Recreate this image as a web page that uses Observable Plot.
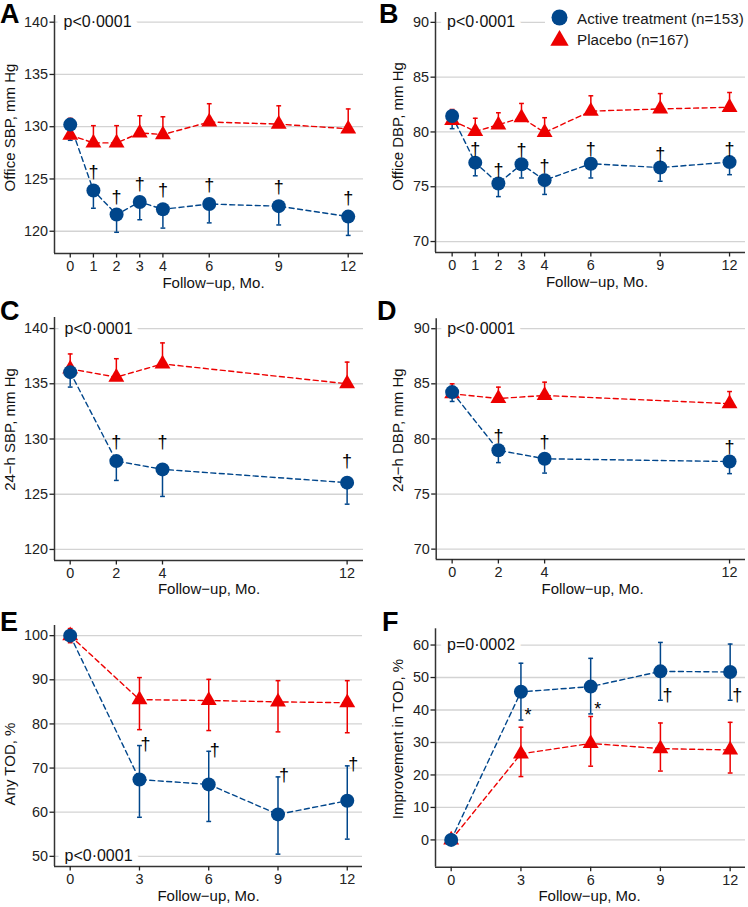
<!DOCTYPE html>
<html><head><meta charset="utf-8">
<script src="https://cdn.jsdelivr.net/npm/d3@7"></script>
<script src="https://cdn.jsdelivr.net/npm/@observablehq/plot@0.6"></script>
<style>
body{margin:0;background:#fff;}
#wrap{position:relative;width:748px;height:907px;background:#fff;font-family:"Liberation Sans",Arial,sans-serif;overflow:hidden}
.panel{position:absolute}
.letter{position:absolute;font-weight:bold;font-size:27px;line-height:27px;color:#000;font-family:"Liberation Sans",Arial,sans-serif}
#legend{position:absolute;left:545px;top:2px;width:203px;height:48px;background:#fff}
#legend svg{position:absolute;left:0;top:0;overflow:visible}
</style></head><body><div id="wrap"></div>
<script>
const BLUE = "#00468B", RED = "#ED0000";
const seriesNames = ["Active treatment (n=153)", "Placebo (n=167)"];
const panelLetters = ["A","B","C","D","E","F"];
const xTitle = "Follow\u2212up, Mo.";

// months
const months_AB = [0,1,2,3,4,6,9,12];
const months_CD = [0,2,4,12];
const months_EF = [0,3,6,9,12];

// A: Office SBP
const A_active     = [130.2,123.9,121.6,122.8,122.1,122.6,122.4,121.4];
const A_active_lo  = [128.7,122.2,119.9,121.1,120.3,120.8,120.6,119.6];
const A_placebo    = [129.2,128.45,128.45,129.4,129.25,130.45,130.25,129.8];
const A_placebo_hi = [130.8,130.1,130.1,131.05,130.95,132.2,132.0,131.7];
const A_sig = ["","†","†","†","†","†","†","†"];
// B: Office DBP
const B_active     = [81.45,77.2,75.3,77.05,75.6,77.1,76.75,77.25];
const B_active_lo  = [80.3,76.0,74.1,75.8,74.3,75.8,75.5,76.1];
const B_placebo    = [81.05,80.05,80.65,81.3,79.95,81.9,82.1,82.25];
const B_placebo_hi = [82.05,81.25,81.75,82.6,81.3,83.3,83.5,83.6];
const B_sig = ["","†","†","†","†","†","†","†"];
// C: 24-h SBP
const C_active     = [136.05,128.0,127.25,126.05];
const C_active_lo  = [134.7,126.25,124.8,124.1];
const C_placebo    = [136.35,135.6,136.8,135.0];
const C_placebo_hi = [137.7,137.27,138.7,136.96];
const C_sig = ["","†","†","†"];
// D: 24-h DBP
const D_active     = [84.25,78.97,78.2,77.95];
const D_active_lo  = [83.4,77.85,76.9,76.85];
const D_placebo    = [84.1,83.67,83.94,83.2];
const D_placebo_hi = [85.0,84.7,85.15,84.3];
const D_sig = ["","†","†","†"];
// E: Any TOD %
const E_active     = [100,67.4,66.3,59.5,62.6];
const E_active_lo  = [100,58.85,57.9,50.5,53.9];
const E_active_hi  = [100,75.1,73.8,68.0,70.5];
const E_placebo    = [100,85.5,85.3,85.0,84.8];
const E_placebo_lo = [98.4,78.7,78.5,78.2,78.0];
const E_placebo_hi = [101.6,90.5,90.1,89.8,89.8];
const E_sig = ["","†","†","†","†"];
// F: Improvement in TOD %
const F_active     = [0,45.6,47.2,51.9,51.7];
const F_active_lo  = [0,36.9,38.8,43.0,43.0];
const F_active_hi  = [0,54.4,55.9,60.8,60.3];
const F_placebo    = [0,26.5,29.7,28.1,27.7];
const F_placebo_lo = [0,19.5,22.7,21.2,20.6];
const F_placebo_hi = [0,34.7,38.0,36.0,36.2];
const F_sig = ["","*","*","†","†"];

// tick values
const yTicks_SBP = [120,125,130,135,140];
const yTicks_DBP = [70,75,80,85,90];
const yTicks_E = [50,60,70,80,90,100];
const yTicks_F = [0,10,20,30,40,50,60];

const pTexts = ["p<0\u00B70001","p<0\u00B70001","p<0\u00B70001","p<0\u00B70001","p<0\u00B70001","p=0\u00B70002"];
const yTitles = ["Office SBP, mm Hg","Office DBP, mm Hg","24\u2212h SBP, mm Hg","24\u2212h DBP, mm Hg","Any TOD, %","Improvement in TOD, %"];

const mirror = r => 2*r.v - r.lo;
const panels = [
  {left:0, top:0, w:374, h:300, mL:54, mR:11, mT:15, mB:47, xd:[-0.68,12.66], yd:[117.87,140.64],
   months:months_AB, act:A_active, actLo:A_active_lo, plc:A_placebo, plcHi:A_placebo_hi, sig:A_sig,
   sigAt:mirror, sdx:0, sdy:0, yTicks:yTicks_SBP, pAtTop:true, pdx:9, yLdx:-44, yLdy:-7, xLdx:4.5, xLdy:29.5},
  {left:374, top:0, w:374, h:300, mL:61, mR:3, mT:12, mB:48, xd:[-0.72,12.69], yd:[69.0,90.9],
   months:months_AB, act:B_active, actLo:B_active_lo, plc:B_placebo, plcHi:B_placebo_hi, sig:B_sig,
   sigAt:mirror, sdx:0, sdy:0, yTicks:yTicks_DBP, pAtTop:true, pdx:11.5, yLdx:-37.5, yLdy:-6, xLdx:6.5, xLdy:29.7},
  {left:0, top:300, w:374, h:300, mL:54, mR:11, mT:17, mB:40, xd:[-0.68,12.71], yd:[119.0,141.0],
   months:months_CD, act:C_active, actLo:C_active_lo, plc:C_placebo, plcHi:C_placebo_hi, sig:C_sig,
   sigAt:mirror, sdx:0, sdy:0, yTicks:yTicks_SBP, pAtTop:true, pdx:10, yLdx:-44, yLdy:-9.5, xLdx:0, xLdy:28.3},
  {left:374, top:300, w:374, h:300, mL:61.7, mR:3, mT:18.3, mB:41, xd:[-0.69,12.69], yd:[69.06,90.9],
   months:months_CD, act:D_active, actLo:D_active_lo, plc:D_placebo, plcHi:D_placebo_hi, sig:D_sig,
   sigAt:mirror, sdx:0, sdy:-2, yTicks:yTicks_DBP, pAtTop:true, pdx:11, yLdx:-38, yLdy:-9, xLdx:1.7, xLdy:29.3},
  {left:0, top:600, w:374, h:307, mL:54, mR:12, mT:25, mB:41, xd:[-0.68,12.66], yd:[47.7,102.3],
   months:months_EF, act:E_active, actLo:E_active_lo, actHi:E_active_hi, plc:E_placebo, plcLo:E_placebo_lo, plcHi:E_placebo_hi, sig:E_sig,
   sigAt:r => r.hi, sdx:6, sdy:-1.5, yTicks:yTicks_E, pAtTop:false, pdx:10, yLdx:-44, yLdy:18, xLdx:0, xLdy:29.8},
  {left:374, top:600, w:374, h:307, mL:61, mR:3, mT:28.3, mB:40.3, xd:[-0.675,12.66], yd:[-8.4,65],
   months:months_EF, act:F_active, actLo:F_active_lo, actHi:F_active_hi, plc:F_placebo, plcLo:F_placebo_lo, plcHi:F_placebo_hi, sig:F_sig,
   sigAt:r => r.lo, sdx:7, sdy:-5, yTicks:yTicks_F, pAtTop:true, pdx:11.5, yLdx:-37.7, yLdy:-9, xLdx:-1, xLdy:29}
];

const capSymbol = {draw(ctx, size){ const w = Math.sqrt(size/Math.PI); ctx.moveTo(-w,0); ctx.lineTo(w,0); }};
const wrap = document.getElementById("wrap");
const FONT = "'Liberation Sans', Arial, sans-serif";

panels.forEach((p, k) => {
  const rows = (vals, lo, hi) => p.months.map((m,i) => ({m, v:vals[i], lo: lo ? lo[i] : vals[i], hi: hi ? hi[i] : vals[i]}));
  const act = rows(p.act, p.actLo, p.actHi);
  const plc = rows(p.plc, p.plcLo, p.plcHi);
  const caps = (rs, lo, hi) => [...(lo ? rs.map(r => ({m:r.m, y:r.lo})) : []), ...(hi ? rs.map(r => ({m:r.m, y:r.hi})) : [])];
  const actCaps = caps(act, p.actLo, p.actHi);
  const plcCaps = caps(plc, p.plcLo, p.plcHi);
  const sigs = act.map((r,i) => ({m:r.m, y:p.sigAt(r), s:p.sig[i]})).filter(d => d.s);
  const pRow = [{x:p.xd[0], y: p.pAtTop ? p.yTicks[p.yTicks.length-1] : p.yTicks[0], t:pTexts[k]}];

  const svg = Plot.plot({
    width:p.w, height:p.h, marginLeft:p.mL, marginRight:p.mR, marginTop:p.mT, marginBottom:p.mB,
    x:{domain:p.xd, axis:null},
    y:{domain:p.yd, axis:null},
    style:{fontFamily:FONT, fontSize:"14.4px", color:"#1a1a1a", background:"transparent", overflow:"visible"},
    marks:[
      Plot.gridY({ticks:p.yTicks, stroke:"#d3d3d3", strokeOpacity:1, strokeWidth:1.3}),
      Plot.text(pRow, {x:"x", y:"y", text:"t", textAnchor:"start", dx:p.pdx, lineAnchor:"middle", fontSize:16, fill:"#111", stroke:"white", strokeWidth:14}),
      Plot.ruleX(plc, {x:"m", y1:"lo", y2:"hi", stroke:RED, strokeWidth:1.5}),
      Plot.dot(plcCaps, {x:"m", y:"y", symbol:capSymbol, r:2.4, stroke:RED, strokeWidth:1.5, fill:"none"}),
      Plot.ruleX(act, {x:"m", y1:"lo", y2:"hi", stroke:BLUE, strokeWidth:1.5}),
      Plot.dot(actCaps, {x:"m", y:"y", symbol:capSymbol, r:2.4, stroke:BLUE, strokeWidth:1.5, fill:"none"}),
      Plot.line(plc, {x:"m", y:"v", stroke:RED, strokeWidth:1.4, strokeDasharray:"5,3.5"}),
      Plot.line(act, {x:"m", y:"v", stroke:BLUE, strokeWidth:1.4, strokeDasharray:"5,3.5"}),
      Plot.dot(plc, {x:"m", y:"v", symbol:"triangle", r:5.9, fill:RED, stroke:null}),
      Plot.dot(act, {x:"m", y:"v", symbol:"circle", r:7, fill:BLUE, stroke:null}),
      Plot.text(sigs, {x:"m", y:"y", text:"s", dx:p.sdx, dy:p.sdy, lineAnchor:"middle", fontSize:18, fontFamily:FONT, fill:"#000"}),
      Plot.ruleX([p.xd[0]], {stroke:"#333", strokeWidth:1.5}),
      Plot.ruleY([p.yd[0]], {stroke:"#333", strokeWidth:1.5}),
      Plot.axisY({ticks:p.yTicks, tickSize:4.5, tickPadding:2, label:null, color:"#222", strokeWidth:1.3, fontSize:14.4}),
      Plot.axisX({ticks:p.months, tickSize:4.5, tickPadding:3, label:null, color:"#222", strokeWidth:1.3, fontSize:14.4}),
      Plot.text([xTitle], {text:d => d, frameAnchor:"bottom", dx:p.xLdx, dy:p.xLdy, lineAnchor:"middle", fontSize:15, fill:"#111"}),
      Plot.text([yTitles[k]], {text:d => d, frameAnchor:"left", rotate:-90, textAnchor:"middle", dx:p.yLdx, dy:p.yLdy, lineAnchor:"middle", fontSize:15, fill:"#111"})
    ]
  });
  const div = document.createElement("div");
  div.className = "panel";
  div.style.left = p.left + "px"; div.style.top = p.top + "px";
  div.appendChild(svg);
  wrap.appendChild(div);
});

// panel letters
const letterPos = [[0,1],[379,1],[0,297.8],[377,297.8],[0,608.8],[382,609.4]];
panelLetters.forEach((L,i) => {
  const d = document.createElement("div");
  d.className = "letter"; d.textContent = L;
  d.style.left = letterPos[i][0] + "px"; d.style.top = letterPos[i][1] + "px";
  wrap.appendChild(d);
});

// legend (panel B), drawn as SVG text
const leg = document.createElement("div");
leg.id = "legend";
const legFont = "font-family:'Liberation Sans', Arial, sans-serif;font-size:15.2px";
leg.innerHTML = `<svg width="203" height="48">
<circle cx="14.5" cy="15.5" r="8" fill="${BLUE}"/>
<path d="${d3.symbol(d3.symbolTriangle, 6.8*6.8*Math.PI)()}" transform="translate(14.5,38.5)" fill="${RED}"/>
<text x="32" y="16.5" dy="0.35em" fill="#1a1a1a" style="${legFont}">${seriesNames[0]}</text>
<text x="32" y="38" dy="0.35em" fill="#1a1a1a" style="${legFont}">${seriesNames[1]}</text></svg>`;
wrap.appendChild(leg);
</script></body></html>
